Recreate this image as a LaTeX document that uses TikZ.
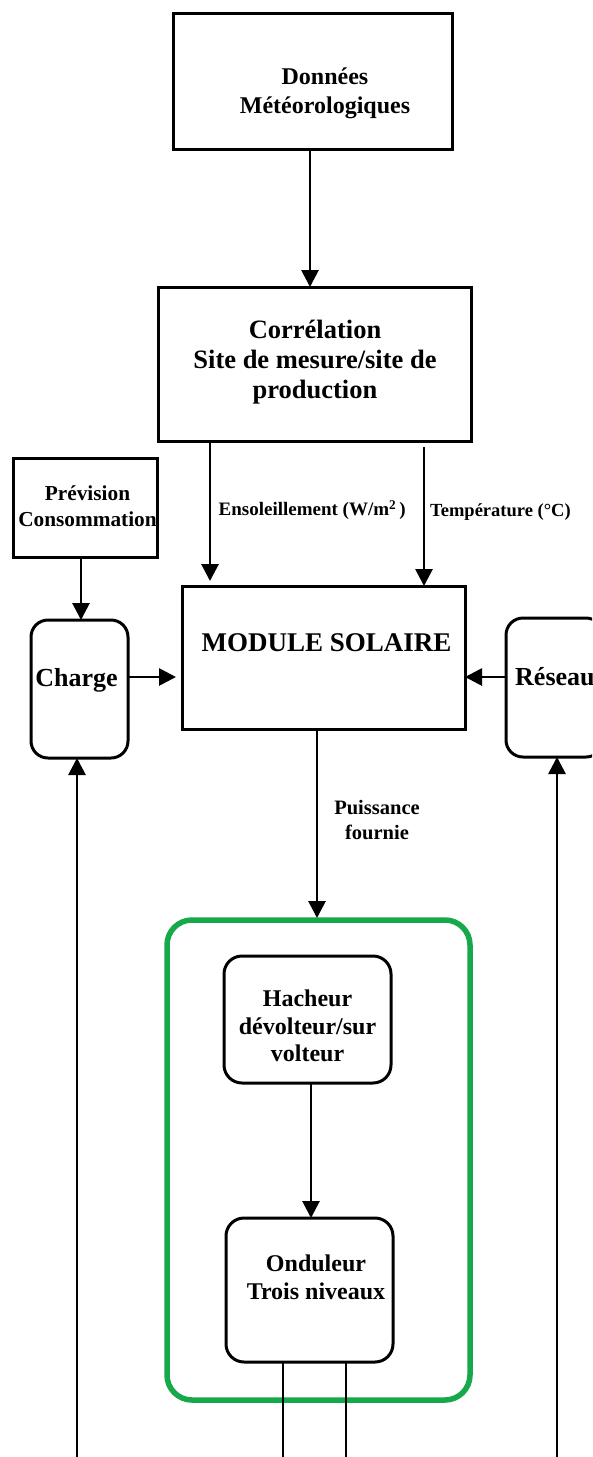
\documentclass[tikz,border=0pt]{standalone}
\usepackage{fontspec}
\setmainfont{Liberation Serif}
\usetikzlibrary{arrows.meta}
\definecolor{boxgreen}{RGB}{22,168,74}
\newcommand\myfs[2]{\fontsize{#1}{#2}\selectfont}
\tikzset{
  box/.style={draw, line width=3pt, inner sep=0pt, outer sep=0pt},
  rbox/.style={box, rounded corners=17pt},
  gbox/.style={draw=boxgreen, line width=5.5pt, rounded corners=25pt, inner sep=0pt, outer sep=0pt},
  conn/.style={line width=2.8pt, -{Triangle[width=17pt,length=17pt]}},
  wire/.style={line width=2.8pt},
  txt/.style={inner sep=0pt, align=center, font=\bfseries}
}
\begin{document}
\begin{tikzpicture}[x=1pt,y=-1pt]
\useasboundingbox (0,0) rectangle (592,1457);
\clip (0,0) rectangle (592,1457);
\fill[white] (0,0) rectangle (592,1457);

% boxes
\node[box, minimum width=279pt, minimum height=136pt] (donnees) at (312.5,81) {};
\node[box, minimum width=313pt, minimum height=154pt] (correl) at (314.5,364) {};
\node[box, minimum width=144pt, minimum height=99pt] (prev) at (85,507.5) {};
\node[rbox, minimum width=97pt, minimum height=138pt] (charge) at (79.5,689) {};
\node[box, minimum width=283pt, minimum height=143pt] (module) at (323.5,657.5) {};
\node[rbox, minimum width=97pt, minimum height=139pt] (reseau) at (554.5,687.5) {};
\node[gbox, minimum width=303pt, minimum height=480pt] (green) at (318.5,1160) {};
\node[rbox, rounded corners=18pt, minimum width=167pt, minimum height=127pt] (hacheur) at (307.5,1019.5) {};
\node[rbox, rounded corners=18pt, minimum width=167pt, minimum height=144pt] (onduleur) at (309.5,1290) {};

% texts
\node[txt, font=\bfseries\myfs{24}{29}] (tdonnees) at (325,93) {Données\\Météorologiques};
\node[txt, font=\bfseries\myfs{26.5}{30}] (tcorrel) at (315,362) {Corrélation\\Site de mesure/site de\\production};
\node[txt, font=\bfseries\myfs{21.3}{25.5}] (tprev) at (87.5,506) {Prévision\\Consommation};
\node[txt, font=\bfseries\myfs{26}{30}] (tcharge) at (76.5,680) {Charge};
\node[txt, font=\bfseries\myfs{27}{30}] (tmodule) at (326.5,643) {MODULE SOLAIRE};
\node[txt, anchor=west, font=\bfseries\myfs{26}{30}] (treseau) at (515,677) {Réseau};
\node[txt, font=\bfseries\myfs{24}{27.5}] (thacheur) at (307.5,1026) {Hacheur\\dévolteur/sur\\volteur};
\node[txt, font=\bfseries\myfs{24}{28}] (tonduleur) at (316,1277) {Onduleur\\Trois niveaux};

% connector labels
\node[txt, anchor=west, font=\bfseries\myfs{19}{22}] (lens) at (218.5,510) {Ensoleillement (W/m\textsuperscript{2}\,)};
\node[txt, anchor=west, font=\bfseries\myfs{18.5}{22}] (ltemp) at (430,512) {Température (°C)};
\node[txt, font=\bfseries\myfs{20.5}{24.5}] (lpuis) at (377,820) {Puissance\\fournie};

% helper coordinates
\coordinate (xd) at (310,0);
\coordinate (xe) at (210,0);
\coordinate (xt) at (424,0);
\coordinate (xp) at (81,0);
\coordinate (yc) at (0,677);
\coordinate (xm) at (317,0);
\coordinate (xh) at (311,0);
\coordinate (bl) at (77,1457);
\coordinate (br) at (557,1457);
\coordinate (o1) at (283,1457);
\coordinate (o2) at (346,1457);

% connectors
\draw[conn] (donnees.south -| xd) -- (correl.north -| xd);
\draw[conn, shorten >=5pt] (correl.south -| xe) -- (module.north -| xe);
\draw[conn, shorten <=6pt] (correl.south -| xt) -- (module.north -| xt);
\draw[conn] (prev.south -| xp) -- (charge.north -| xp);
\draw[conn, shorten >=6pt] (charge.east |- yc) -- (module.west |- yc);
\draw[conn] (reseau.west |- yc) -- (module.east |- yc);
\draw[conn] (bl) -- (bl |- charge.south);
\draw[conn] (br) -- (br |- reseau.south);
\draw[conn, shorten >=2pt] (module.south -| xm) -- (green.north -| xm);
\draw[conn] (hacheur.south -| xh) -- (onduleur.north -| xh);
\draw[wire] (onduleur.south -| o1) -- (o1);
\draw[wire] (onduleur.south -| o2) -- (o2);
\end{tikzpicture}
\end{document}
